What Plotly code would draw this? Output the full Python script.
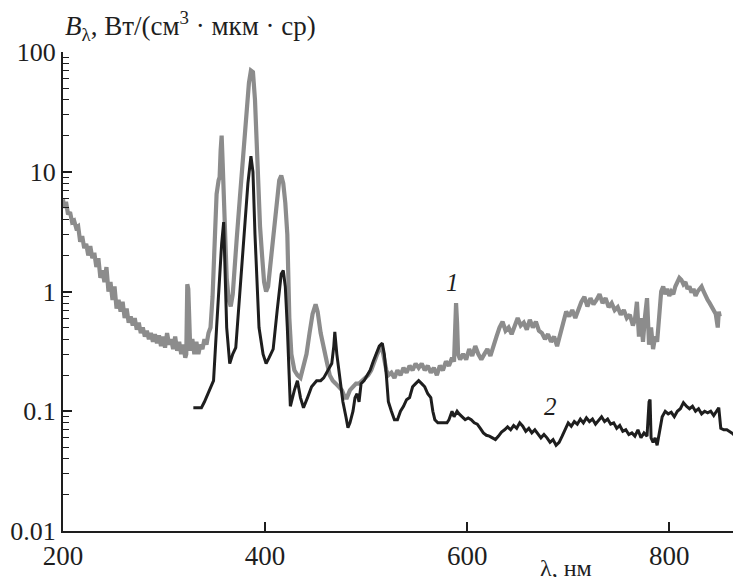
import plotly.graph_objects as go

gray_x = [200, 201, 203, 205, 207, 209, 211, 213, 215, 217, 219, 221, 223, 225, 227, 229, 231, 233, 235, 237,
          239, 241, 243, 245, 247, 249, 251, 253, 255, 257, 259, 261, 263, 265, 267, 269, 271, 273, 275, 277,
          279, 281, 283, 285, 287, 289, 291, 293, 295, 297, 299, 301, 303, 305, 307, 309, 311, 313, 315, 317,
          319, 321, 322, 323, 324, 325, 326, 328, 330, 332, 334, 336, 338, 340, 342, 344, 346, 348, 350, 352,
          354, 355, 356, 357, 358, 359, 360, 362, 364, 366, 368, 370, 372, 375, 378, 381, 384, 386, 388, 390,
          392, 394, 395, 397, 399, 401, 403, 405, 408, 411, 414, 416, 418, 420, 422, 424, 426, 429, 432, 435,
          438, 441, 444, 447, 450, 452, 455, 458, 461, 464, 467, 470, 473, 476, 479, 481, 484, 487, 490, 493,
          496, 499, 502, 505, 508, 511, 514, 516, 518, 520, 522, 525, 528, 531, 534, 537, 540, 543, 546, 549,
          552, 555, 558, 561, 564, 567, 570, 573, 576, 579, 582, 585, 587, 588, 589, 590, 591, 593, 596, 599,
          602, 605, 608, 611, 614, 617, 620, 623, 626, 629, 632, 635, 638, 641, 644, 647, 650, 653, 656, 659,
          662, 665, 668, 671, 674, 677, 680, 683, 686, 689, 692, 695, 698, 701, 704, 707, 710, 713, 716, 719,
          722, 725, 728, 731, 734, 737, 740, 743, 746, 749, 752, 755, 758, 761, 764, 766, 768, 770, 772, 774,
          776, 778, 780, 782, 784, 786, 788, 790, 792, 794, 796, 798, 800, 802, 804, 806, 808, 810, 812, 814,
          816, 818, 820, 822, 824, 826, 828, 830, 832, 834, 836, 838, 840, 842, 844, 846, 848, 849, 850]
gray_y = [5.9, 5.0, 5.6, 4.4, 4.6, 3.8, 3.9, 3.4, 3.5, 2.6, 2.9, 2.3, 2.5, 2.0, 2.4, 1.9, 2.1, 1.6, 1.9, 1.3,
          1.5, 1.2, 1.6, 1.0, 1.2, 0.85, 1.1, 0.72, 0.85, 0.68, 0.82, 0.6, 0.72, 0.55, 0.62, 0.52, 0.6, 0.48, 0.55, 0.45,
          0.5, 0.42, 0.47, 0.4, 0.45, 0.38, 0.44, 0.37, 0.43, 0.35, 0.42, 0.34, 0.45, 0.36, 0.4, 0.33, 0.42, 0.32, 0.38, 0.3,
          0.36, 0.28, 0.3, 1.15, 1.05, 0.6, 0.32, 0.4, 0.3, 0.38, 0.3, 0.36, 0.33, 0.4, 0.36, 0.45, 0.5, 0.9, 2.5, 6.5,
          8.5, 9.0, 15, 20, 12, 6, 3, 1.3, 0.85, 0.75, 0.95, 1.5, 2.8, 6, 13, 28, 55, 70, 68, 40,
          12, 4.5, 3.5, 2.0, 1.2, 1.0, 1.1, 1.6, 2.8, 5, 8.5, 9.3, 8.0, 5.5, 3, 0.6, 0.3, 0.22, 0.2, 0.19,
          0.24, 0.3, 0.45, 0.65, 0.78, 0.68, 0.45, 0.33, 0.26, 0.2, 0.18, 0.17, 0.16, 0.15, 0.13, 0.13, 0.15, 0.16, 0.17, 0.17,
          0.18, 0.19, 0.2, 0.22, 0.26, 0.3, 0.34, 0.33, 0.27, 0.22, 0.2, 0.21, 0.19, 0.22, 0.2, 0.23, 0.21, 0.24, 0.22, 0.25,
          0.23, 0.25, 0.22, 0.24, 0.21, 0.23, 0.2, 0.24, 0.22, 0.26, 0.24, 0.28, 0.26, 0.5, 0.8, 0.55, 0.3, 0.27, 0.3, 0.27,
          0.33, 0.29, 0.35, 0.3, 0.27, 0.3, 0.33, 0.29, 0.36, 0.42, 0.5, 0.56, 0.47, 0.5, 0.44, 0.52, 0.6, 0.52, 0.55, 0.48,
          0.58, 0.5, 0.56, 0.47, 0.45, 0.4, 0.44, 0.38, 0.42, 0.35, 0.43, 0.55, 0.68, 0.62, 0.7, 0.6, 0.72, 0.82, 0.9, 0.75,
          0.88, 0.78, 0.85, 0.95, 0.8, 0.88, 0.74, 0.8, 0.7, 0.74, 0.64, 0.7, 0.6, 0.64, 0.52, 0.58, 0.82, 0.42, 0.6, 0.38,
          0.62, 0.88, 0.36, 0.5, 0.33, 0.42, 0.38, 0.7, 1.0, 1.1, 0.95, 1.05, 0.92, 1.0, 0.95, 1.1, 1.2, 1.3, 1.25, 1.15,
          1.2, 1.05, 1.1, 0.98, 1.05, 0.92, 1.0, 1.05, 1.1, 1.0, 0.9, 0.85, 0.8, 0.75, 0.7, 0.65, 0.5, 0.68, 0.62]

black_x = [329, 337, 340, 345, 349, 352, 355, 357, 359, 360, 362, 365, 368, 371, 375, 379, 383, 386, 388, 390,
           392, 394, 398, 401, 404, 408, 412, 416, 418, 420, 422, 425, 429, 432, 435, 438, 442, 446, 451, 455,
           458, 462, 466, 468, 469, 471, 474, 477, 480, 482, 484, 487, 489, 491, 493, 495, 498, 501, 504, 507,
           510, 513, 516, 518, 520, 522, 525, 528, 531, 534, 537, 540, 543, 546, 549, 552, 555, 558, 561, 564,
           566, 568, 571, 574, 577, 580, 582, 585, 587, 590, 592, 595, 598, 601, 604, 607, 610, 613, 616, 619,
           622, 625, 628, 631, 634, 637, 640, 643, 646, 649, 652, 655, 658, 661, 664, 667, 670, 673, 676, 679,
           682, 685, 688, 691, 694, 697, 700, 703, 706, 709, 712, 715, 718, 721, 724, 727, 730, 733, 736, 739,
           742, 745, 748, 751, 754, 757, 760, 763, 766, 769, 772, 775, 778, 780, 781, 782, 784, 786, 788, 790,
           793, 796, 799, 802, 805, 808, 811, 814, 817, 820, 823, 826, 829, 832, 835, 838, 841, 844, 847, 849,
           851, 854, 857, 860, 863, 866, 869, 871]
black_y = [0.107, 0.107, 0.12, 0.15, 0.18, 0.5, 1.4, 2.5, 3.8, 2.0, 0.5, 0.25, 0.3, 0.34, 1.0, 3.0, 8, 13.5, 10, 3,
           1.0, 0.5, 0.3, 0.25, 0.28, 0.33, 0.7, 1.4, 1.5, 1.1, 0.5, 0.11, 0.15, 0.18, 0.13, 0.107, 0.13, 0.16, 0.18, 0.18,
           0.19, 0.22, 0.25, 0.35, 0.46, 0.3, 0.18, 0.12, 0.09, 0.073, 0.08, 0.1, 0.13, 0.14, 0.12, 0.17, 0.18, 0.2, 0.22, 0.26,
           0.3, 0.35, 0.37, 0.3, 0.2, 0.12, 0.1, 0.085, 0.085, 0.1, 0.11, 0.125, 0.13, 0.16, 0.17, 0.18, 0.17, 0.16, 0.14, 0.13,
           0.1, 0.085, 0.08, 0.08, 0.08, 0.08, 0.085, 0.1, 0.09, 0.1, 0.095, 0.09, 0.085, 0.088, 0.085, 0.08, 0.078, 0.072, 0.066, 0.063,
           0.062, 0.06, 0.058, 0.062, 0.067, 0.07, 0.074, 0.07, 0.076, 0.072, 0.08, 0.075, 0.068, 0.072, 0.066, 0.07, 0.065, 0.06, 0.064, 0.06,
           0.055, 0.058, 0.052, 0.055, 0.062, 0.07, 0.08, 0.075, 0.082, 0.078, 0.086, 0.08, 0.088, 0.082, 0.086, 0.078, 0.084, 0.09, 0.082, 0.086,
           0.078, 0.08, 0.072, 0.076, 0.068, 0.07, 0.064, 0.066, 0.062, 0.07, 0.06, 0.066, 0.062, 0.12, 0.125, 0.06, 0.055, 0.06, 0.052, 0.065,
           0.09, 0.1, 0.095, 0.098, 0.09, 0.1, 0.105, 0.118, 0.11, 0.105, 0.11, 0.1, 0.105, 0.095, 0.1, 0.097, 0.1, 0.092, 0.1, 0.107,
           0.072, 0.07, 0.07, 0.068, 0.065, 0.06, 0.057, 0.054]

x_ticks = [200, 400, 600, 800]
y_ticks = [0.01, 0.1, 1, 10, 100]
y_tick_text = ["0.01", "0.1", "1", "10", "100"]

FONT = "Times New Roman, Liberation Serif, serif"
INK = "#1e1e1e"

# page is offset by the 8px body margin; plot area spans page px x 63..741, y 52..531
W, H = 733, 569
ML, MT, MB, MR = 55, 44, 46, 0
PW, PH = W - ML - MR, H - MT - MB


def px(X):
    return (X - 63) / PW


def py(Y):
    return (531 - Y) / PH


fig = go.Figure()
fig.add_trace(go.Scatter(x=gray_x, y=gray_y, mode="lines",
                         line=dict(color="#8c8c8c", width=4.2), showlegend=False))
fig.add_trace(go.Scatter(x=black_x, y=black_y, mode="lines",
                         line=dict(color=INK, width=3), showlegend=False))

fig.add_annotation(x=585, y=0.075, xref="x", yref="y", text="<i>1</i>", showarrow=False,
                   font=dict(family=FONT, size=25, color=INK))
fig.add_annotation(x=682, y=-0.962, xref="x", yref="y", text="<i>2</i>", showarrow=False,
                   font=dict(family=FONT, size=25, color=INK))

fig.add_annotation(x=px(63), y=py(26), xref="paper", yref="paper",
                   xanchor="left", yanchor="middle",
                   text="<i>B</i><sub>λ</sub>, Вт/(см<sup>3</sup> · мкм · ср)", showarrow=False,
                   font=dict(family=FONT, size=27, color=INK))
fig.add_annotation(x=px(566), y=py(568), xref="paper", yref="paper",
                   xanchor="center", yanchor="middle",
                   text="λ, нм", showarrow=False,
                   font=dict(family=FONT, size=24, color=INK))

fig.update_layout(
    width=W, height=H,
    margin=dict(l=ML, r=MR, t=MT, b=MB),
    plot_bgcolor="white", paper_bgcolor="white",
    font=dict(family=FONT, size=26, color=INK),
    xaxis=dict(range=[200, 871], tickvals=x_ticks, ticktext=[str(v) for v in x_ticks],
               ticks="inside", ticklen=9, tickwidth=1.5, tickcolor=INK,
               showline=True, linecolor=INK, linewidth=2, showgrid=False, zeroline=False,
               tickfont=dict(family=FONT, size=27, color=INK)),
    yaxis=dict(type="log", range=[-2, 2], tickvals=y_ticks, ticktext=y_tick_text,
               ticks="inside", ticklen=9, tickwidth=1.5, tickcolor=INK,
               showline=True, linecolor=INK, linewidth=2, showgrid=False, zeroline=False,
               tickfont=dict(family=FONT, size=26, color=INK),
               minor=dict(ticks="inside", ticklen=6, tickwidth=1.2, tickcolor=INK,
                          tickvals=[m * 10 ** e for e in range(-2, 2) for m in range(2, 10)],
                          showgrid=False)),
)

fig.write_html("out.html")
